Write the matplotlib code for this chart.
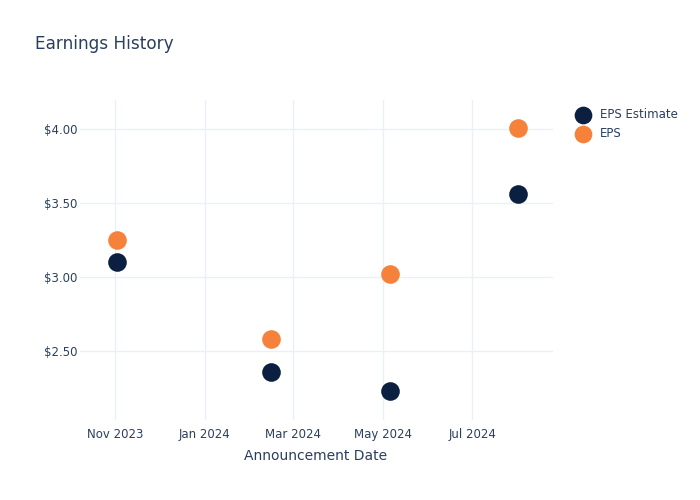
import pandas as pd
import numpy as np
import matplotlib
matplotlib.use("Agg")
import matplotlib.pyplot as plt
import matplotlib.dates as mdates
import matplotlib.ticker as plticker

# announcement dates and eps values
dates = pd.to_datetime(["2023-11-02", "2024-02-15", "2024-05-06", "2024-08-01"])
eps_estimate = [3.10, 2.36, 2.23, 3.56]
eps_actual = [3.25, 2.58, 3.02, 4.01]
series_names = ["EPS Estimate", "EPS"]

txt = "#2a3f5f"
navy = "#0b1f41"
orange = "#f5813a"
grid_c = "#ebf0f8"

plt.rcParams['font.family'] = ['DejaVu Sans']

fig = plt.figure(figsize=(7, 5), dpi=100)
ax = fig.add_axes([80/700, 80/500, 473/700, 320/500])

ax.scatter(dates, eps_estimate, s=180, color=navy, label=series_names[0], zorder=3, linewidths=0)
ax.scatter(dates, eps_actual, s=180, color=orange, label=series_names[1], zorder=3, linewidths=0)

ax.set_xlim(pd.Timestamp("2023-10-08"), pd.Timestamp("2024-08-25"))
ax.set_ylim(2.034, 4.196)

ax.xaxis.set_major_locator(mdates.MonthLocator(bymonth=[1, 3, 5, 7, 9, 11]))
ax.xaxis.set_major_formatter(mdates.DateFormatter("%b %Y"))
ax.yaxis.set_major_locator(plticker.FixedLocator([2.5, 3.0, 3.5, 4.0]))
ax.yaxis.set_major_formatter(plticker.FuncFormatter(lambda v, p: "$%.2f" % v))

ax.grid(True, color=grid_c, linewidth=1, zorder=0)
for s in ax.spines.values():
    s.set_visible(False)
ax.tick_params(axis="y", length=0, colors=txt, labelsize=8.5, pad=2)
ax.tick_params(axis="x", length=0, colors=txt, labelsize=8.5, pad=6)

fig.text(35/700, 1 - 44/500, "Earnings History", fontsize=12.2, color=txt, va="center", ha="left")
fig.text(316/700, 1 - 456/500, "Announcement Date", fontsize=10, color=txt, va="center", ha="center")

leg = fig.legend(loc="upper left", bbox_to_anchor=(566/700, 1 - 103/500), frameon=False,
                 fontsize=8.5, labelcolor=txt, handletextpad=0.5, markerscale=0.95,
                 borderaxespad=0, labelspacing=0.5)

fig.savefig("out.png", dpi=100)
